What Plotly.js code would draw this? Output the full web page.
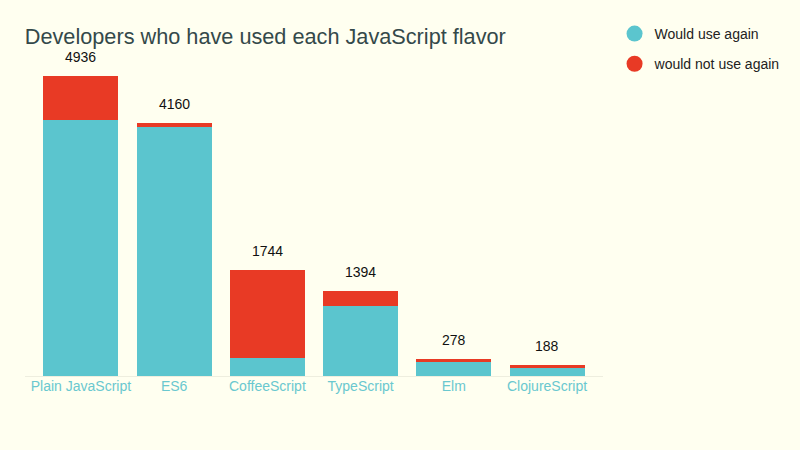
<!DOCTYPE html>
<html>
<head>
<meta charset="utf-8">
<script src="https://cdn.plot.ly/plotly-3.0.1.min.js"></script>
<style>html,body{margin:0;padding:0;background:#fffff0;}#chart{width:800px;height:450px;}</style>
</head>
<body>
<div id="chart"></div>
<script>
const categories = ["Plain JavaScript", "ES6", "CoffeeScript", "TypeScript", "Elm", "ClojureScript"];
const wouldUseAgain = [4218, 4097, 303, 1147, 230, 127];
const wouldNotUseAgain = [718, 63, 1441, 247, 48, 61];
const totals = [4936, 4160, 1744, 1394, 278, 188];

const teal = "#5bc5ce";
const red = "#e83a25";

const traces = [
  {type: "bar", x: categories, y: wouldUseAgain, name: "Would use again",
   marker: {color: teal}, showlegend: false, hoverinfo: "y"},
  {type: "bar", x: categories, y: wouldNotUseAgain, name: "would not use again",
   marker: {color: red}, showlegend: false, hoverinfo: "y"},
  {type: "scatter", mode: "markers", x: [null], y: [null], name: "Would use again",
   marker: {color: teal, size: 16, symbol: "circle"}, legendgroup: "a"},
  {type: "scatter", mode: "markers", x: [null], y: [null], name: "would not use again",
   marker: {color: red, size: 16, symbol: "circle"}, legendgroup: "b"}
];

const annotations = categories.map((c, i) => ({
  x: c, y: totals[i], text: String(totals[i]), showarrow: false,
  yanchor: "bottom", yshift: 9, font: {size: 14, color: "#111"}
}));

const layout = {
  width: 800, height: 450,
  paper_bgcolor: "#fffff0", plot_bgcolor: "#fffff0",
  font: {family: "Liberation Sans, Arial, sans-serif"},
  title: {text: "Developers who have used each JavaScript flavor", x: 0.031, xanchor: "left",
          y: 0.919, yanchor: "middle", font: {size: 21.7, color: "#34494a"}},
  margin: {l: 25, r: 197, t: 60, b: 74},
  barmode: "stack", bargap: 0.195,
  xaxis: {type: "category", range: [-0.6, 5.6], showgrid: false, zeroline: false,
          showline: false, ticks: "", tickfont: {size: 14, color: "#6ac8cf"}},
  yaxis: {range: [0, 5200], showgrid: false, zeroline: true, zerolinecolor: "#eeeedf",
          zerolinewidth: 1, showticklabels: false, ticks: ""},
  legend: {x: 1.02, xanchor: "left", y: 1.133, yanchor: "top", tracegroupgap: 9,
           font: {size: 14, color: "#222"}, bgcolor: "rgba(0,0,0,0)"},
  annotations: annotations,
  showlegend: true
};

Plotly.newPlot("chart", traces, layout, {displayModeBar: false, staticPlot: true});
</script>
</body>
</html>
